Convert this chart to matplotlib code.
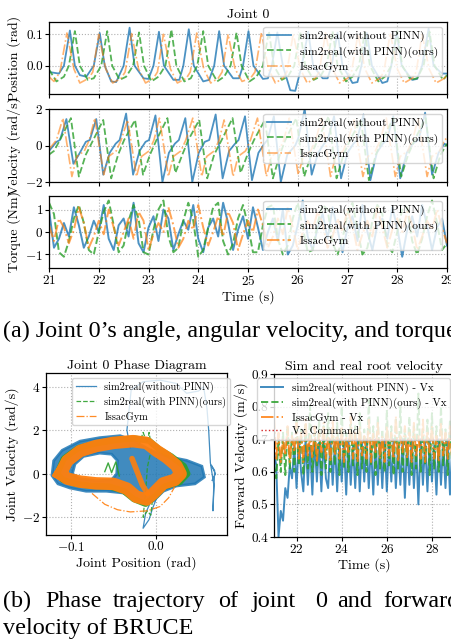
import numpy as np
import matplotlib
matplotlib.use('Agg')
import matplotlib.pyplot as plt
from matplotlib.path import Path
from matplotlib.patches import PathPatch

plt.rcParams['font.family'] = ['cmr10', 'DejaVu Serif']
plt.rcParams['mathtext.fontset'] = 'cm'
plt.rcParams['axes.formatter.use_mathtext'] = True
plt.rcParams['axes.unicode_minus'] = True

# ---------------- data ----------------
labels = ['sim2real(without PINN)', 'sim2real(with PINN)(ours)', 'IssacGym']
vx_labels = ['sim2real(without PINN) - Vx', 'sim2real(with PINN)(ours) - Vx',
             'IssacGym - Vx', 'Vx Command']

# Joint position (rad): (time, value) key points
blue_pos = [(21.00,-0.020),(21.20,-0.025),(21.30,0.000),(21.42,0.112),(21.52,0.000),(21.62,-0.030),
            (21.75,-0.035),(21.90,0.000),(22.02,0.104),(22.12,0.000),(22.25,-0.050),(22.35,-0.052),
            (22.50,0.000),(22.62,0.121),(22.72,0.000),(22.90,-0.040),(23.00,-0.042),(23.10,0.000),
            (23.21,0.108),(23.31,0.000),(23.50,-0.045),(23.62,-0.045),(23.70,0.000),(23.81,0.116),
            (23.91,0.000),(24.10,-0.050),(24.22,-0.045),(24.32,0.000),(24.42,0.110),(24.52,0.000),
            (24.70,-0.040),(24.82,-0.040),(24.90,0.000),(25.01,0.110),(25.11,0.000),(25.30,-0.042),
            (25.40,-0.040),(25.48,0.000),(25.59,0.106),(25.70,0.000),(25.85,-0.078),(25.95,-0.080),
            (26.08,0.000),(26.21,0.108),(26.31,0.000),(26.50,-0.040),(26.60,-0.040),(26.68,0.000),
            (26.80,0.105),(26.90,0.000),(27.10,-0.055),(27.20,-0.052),(27.28,0.000),(27.39,0.104),
            (27.49,0.000),(27.70,-0.055),(27.80,-0.050),(27.88,0.000),(27.99,0.106),(28.09,0.000),
            (28.30,-0.045),(28.40,-0.042),(28.50,0.000),(28.63,0.118),(28.73,0.000),(28.90,-0.025),
            (29.00,-0.025)]
green_pos = [(21.00,-0.012),(21.15,-0.050),(21.30,-0.035),(21.40,0.000),(21.52,0.110),(21.62,0.000),
             (21.78,-0.045),(21.90,-0.040),(22.05,0.000),(22.17,0.110),(22.27,0.000),(22.42,-0.045),
             (22.55,-0.035),(22.69,0.000),(22.81,0.106),(22.91,0.000),(23.06,-0.050),(23.20,-0.035),
             (23.34,0.000),(23.46,0.115),(23.56,0.000),(23.72,-0.050),(23.85,-0.040),(23.98,0.000),
             (24.10,0.110),(24.20,0.000),(24.38,-0.050),(24.52,-0.035),(24.65,0.000),(24.77,0.105),
             (24.87,0.000),(25.03,-0.050),(25.17,-0.035),(25.30,0.000),(25.42,0.110),(25.52,0.000),
             (25.68,-0.045),(25.80,-0.035),(25.93,0.000),(26.05,0.108),(26.15,0.000),(26.32,-0.045),
             (26.45,-0.035),(26.58,0.000),(26.70,0.110),(26.80,0.000),(26.97,-0.050),(27.10,-0.035),
             (27.23,0.000),(27.35,0.106),(27.45,0.000),(27.62,-0.050),(27.75,-0.035),(27.88,0.000),
             (28.00,0.110),(28.10,0.000),(28.27,-0.045),(28.40,-0.040),(28.53,0.000),(28.65,0.108),
             (28.75,0.000),(28.92,-0.045),(29.00,-0.030)]
orange_pos = [(21.00,-0.035),(21.10,-0.050),(21.22,-0.020),(21.36,0.104),(21.50,-0.010),(21.62,-0.055),
              (21.80,-0.040),(21.88,-0.020),(22.00,0.100),(22.14,-0.010),(22.28,-0.055),(22.45,-0.040),
              (22.53,-0.020),(22.66,0.102),(22.80,-0.010),(22.94,-0.055),(23.10,-0.040),(23.18,-0.020),
              (23.30,0.100),(23.44,-0.010),(23.58,-0.055),(23.76,-0.040),(23.84,-0.020),(23.97,0.104),
              (24.11,-0.010),(24.25,-0.055),(24.40,-0.040),(24.48,-0.020),(24.60,0.100),(24.74,-0.010),
              (24.88,-0.050),(25.05,-0.040),(25.14,-0.020),(25.27,0.105),(25.41,-0.010),(25.55,-0.055),
              (25.70,-0.040),(25.78,-0.020),(25.91,0.102),(26.05,-0.010),(26.19,-0.055),(26.35,-0.040),
              (26.43,-0.020),(26.56,0.104),(26.70,-0.010),(26.84,-0.055),(27.00,-0.040),(27.08,-0.020),
              (27.21,0.100),(27.35,-0.010),(27.49,-0.055),(27.65,-0.040),(27.73,-0.020),(27.86,0.104),
              (28.00,-0.010),(28.14,-0.055),(28.30,-0.040),(28.38,-0.020),(28.50,0.100),(28.64,-0.010),
              (28.78,-0.055),(28.95,-0.040),(29.00,-0.030)]

# Joint velocity (rad/s): (time, value) key points
blue_vel = [(21.00,-0.3),(21.15,0.2),(21.22,0.3),(21.35,1.45),(21.49,-1.0),(21.62,-0.4),(21.74,0.2),
            (21.82,0.3),(21.95,1.45),(22.09,-1.6),(22.22,-0.4),(22.34,0.1),
            (22.42,0.3),(22.55,1.75),(22.69,-1.6),(22.82,-0.3),(22.94,0.2),
            (23.01,0.3),(23.14,1.65),(23.28,-2.0),(23.41,-0.4),(23.53,0.1),
            (23.61,0.3),(23.74,1.5),(23.88,-2.0),(24.01,-0.4),(24.13,0.2),
            (24.22,0.3),(24.35,1.7),(24.49,-1.8),(24.62,-0.3),(24.74,0.1),
            (24.81,0.3),(24.94,1.6),(25.08,-1.9),(25.21,-0.4),(25.33,0.1),
            (25.39,0.3),(25.52,1.6),(25.66,-2.0),(25.79,-0.5),(25.95,0.0),
            (26.01,0.4),(26.14,2.0),(26.28,-1.6),(26.41,-0.4),(26.53,0.1),
            (26.60,0.3),(26.73,1.6),(26.87,-1.8),(27.00,-0.4),(27.12,0.1),
            (27.19,0.3),(27.32,1.7),(27.46,-1.9),(27.59,-0.4),(27.71,0.1),
            (27.79,0.3),(27.92,1.6),(28.06,-1.8),(28.19,-0.4),(28.31,0.1),
            (28.43,0.3),(28.56,1.8),(28.70,-1.6),(28.83,-0.4),(28.95,0.1),(29.00,0.0)]
green_vel = [(21.00,-0.5),(21.10,-0.3),(21.22,0.3),(21.44,1.5),(21.60,-1.7),(21.74,-0.5),(21.87,0.2),
             (22.09,1.4),(22.25,-1.8),(22.39,-0.5),(22.51,0.3),
             (22.73,1.4),(22.89,-1.6),(23.03,-0.5),(23.16,0.3),
             (23.38,1.5),(23.54,-1.5),(23.68,-0.5),(23.80,0.3),
             (24.02,1.4),(24.18,-1.8),(24.32,-0.5),(24.47,0.3),
             (24.69,1.5),(24.85,-1.5),(24.99,-0.5),(25.12,0.3),
             (25.34,1.4),(25.50,-1.8),(25.64,-0.5),(25.75,0.3),
             (25.97,1.5),(26.13,-1.7),(26.27,-0.5),(26.40,0.3),
             (26.62,1.6),(26.78,-1.8),(26.92,-0.5),(27.05,0.3),
             (27.27,1.4),(27.43,-1.9),(27.57,-0.5),(27.70,0.3),
             (27.92,1.5),(28.08,-1.7),(28.22,-0.5),(28.35,0.3),
             (28.57,1.5),(28.73,-1.8),(28.87,-0.5),(29.00,0.1)]
orange_vel = [(21.00,-0.2),(21.15,0.3),(21.28,1.5),(21.46,-1.7),(21.56,-0.6),(21.71,-0.3),(21.81,0.3),
              (21.92,1.5),(22.10,-1.6),(22.20,-0.6),(22.35,-0.3),(22.45,0.3),
              (22.58,1.4),(22.76,-1.7),(22.86,-0.6),(23.01,-0.3),(23.11,0.3),
              (23.22,1.5),(23.40,-1.7),(23.50,-0.6),(23.65,-0.3),(23.75,0.3),
              (23.89,1.5),(24.07,-1.7),(24.17,-0.6),(24.32,-0.3),(24.42,0.3),
              (24.52,1.4),(24.70,-1.7),(24.80,-0.6),(24.95,-0.3),(25.05,0.3),
              (25.19,1.5),(25.37,-1.7),(25.47,-0.6),(25.62,-0.3),(25.72,0.3),
              (25.83,1.5),(26.01,-1.6),(26.11,-0.6),(26.26,-0.3),(26.36,0.3),
              (26.48,1.5),(26.66,-1.7),(26.76,-0.6),(26.91,-0.3),(27.01,0.3),
              (27.13,1.4),(27.31,-1.7),(27.41,-0.6),(27.56,-0.3),(27.66,0.3),
              (27.78,1.5),(27.96,-1.7),(28.06,-0.6),(28.21,-0.3),(28.31,0.3),
              (28.42,1.5),(28.60,-1.7),(28.70,-0.6),(28.85,-0.3),(28.95,0.3),(29.00,0.4)]

# Joint torque (Nm), sampled across 21..29 s
blue_tau = [1.0,-0.7,-0.3,0.4,-0.2,1.1,0.3,-0.7,-0.2,0.5,0.0,1.2,-0.3,-0.8,0.3,0.6,-0.2,1.3,-0.5,-0.9,
            0.2,0.7,-0.4,1.0,0.6,-0.8,-0.1,0.5,0.1,1.2,-0.3,-0.9,0.2,0.6,-0.2,1.3,0.4,-0.8,0.1,0.7,
            -0.3,1.1,0.2,-0.8,0.0,0.6,-0.4,1.0,-1.0,-0.6,0.3,1.4,-0.2,-0.8,0.2,0.8,-0.3,1.1,0.1,-0.9,
            0.2,0.7,-0.4,1.2,0.0,-0.8,0.3,0.6,-0.3,1.1,0.2,-1.1,0.1,0.7,-0.2,1.2,0.3,-0.8,0.2,0.6,-0.6]
green_tau = [1.3,0.8,-0.9,-1.1,-0.4,0.6,1.2,0.4,-0.8,-1.0,0.0,0.9,1.4,0.3,-0.9,-0.6,0.5,1.2,0.6,-0.9,
             -1.0,0.1,1.0,1.4,-0.2,-0.9,-0.7,0.5,1.3,0.5,-1.1,-0.8,0.2,1.1,1.3,-0.4,-1.0,-0.5,0.6,1.2,
             0.3,-0.9,-0.9,0.3,1.1,1.2,-0.3,-1.0,-0.6,0.6,1.3,0.2,-0.9,-0.8,0.4,1.2,1.0,-0.5,-1.0,-0.3,
             0.8,1.3,0.1,-1.0,-0.7,0.5,1.2,0.8,-0.6,-0.9,0.0,1.0,1.1,-0.4,-1.0,-0.3,0.7,1.4,0.4,-0.8,-0.5]
orange_tau = [0.3,-0.4,0.6,0.2,-0.5,0.1,1.1,0.4,-0.7,-0.2,0.5,-0.1,1.0,0.2,-0.6,0.0,0.6,-0.3,0.9,0.5,
              -0.8,-0.1,0.4,0.0,1.1,0.3,-0.7,-0.3,0.5,0.1,1.2,0.2,-0.6,0.0,0.7,-0.2,0.9,0.4,-0.8,-0.1,
              0.5,0.0,1.0,0.3,-0.7,-0.2,0.6,-0.1,1.1,0.2,-0.8,0.0,0.5,0.1,0.9,0.4,-0.7,-0.2,0.6,0.0,
              1.0,0.3,-0.8,-0.1,0.5,-0.2,1.1,0.2,-0.7,0.1,0.6,0.0,0.9,0.3,-0.8,-0.2,0.5,0.1,1.0,0.2,-0.5]

# Forward root velocity (m/s), sampled across 21..29 s
blue_vx = [0.66,0.62,0.40,0.48,0.45,0.55,0.52,0.62,0.58,0.68,0.55,0.70,0.60,0.54,0.70,0.56,0.68,0.53,0.70,0.57,
           0.69,0.54,0.70,0.58,0.55,0.70,0.56,0.69,0.54,0.70,0.57,0.69,0.53,0.70,0.56,0.68,0.55,0.70,0.54,0.69,
           0.57,0.70,0.55,0.68,0.53,0.70,0.56,0.69,0.55,0.70,0.54,0.69,0.57,0.70,0.55,0.68,0.56,0.70,0.52,0.69,
           0.56,0.70,0.55,0.68,0.50,0.70,0.56,0.69,0.54,0.70,0.57,0.68,0.53,0.70,0.56,0.69,0.55,0.70,0.53,0.68,0.56]
green_vx = [0.62,0.58,0.70,0.60,0.72,0.59,0.74,0.61,0.72,0.60,0.76,0.62,0.73,0.59,0.75,0.61,0.80,0.60,0.72,0.62,
            0.76,0.59,0.74,0.61,0.78,0.60,0.73,0.62,0.75,0.59,0.80,0.61,0.72,0.60,0.76,0.62,0.74,0.59,0.78,0.61,
            0.73,0.60,0.82,0.62,0.74,0.59,0.77,0.61,0.73,0.60,0.79,0.62,0.74,0.59,0.76,0.61,0.80,0.60,0.73,0.62,
            0.77,0.59,0.74,0.61,0.84,0.60,0.73,0.62,0.76,0.59,0.78,0.61,0.74,0.60,0.80,0.62,0.73,0.59,0.76,0.61,0.72]
orange_vx = [0.77,0.64,0.72,0.63,0.70,0.65,0.74,0.63,0.71,0.66,0.75,0.64,0.72,0.63,0.76,0.65,0.71,0.64,0.74,0.63,
             0.72,0.66,0.75,0.64,0.71,0.63,0.76,0.65,0.72,0.64,0.74,0.63,0.71,0.66,0.77,0.64,0.72,0.63,0.74,0.65,
             0.71,0.64,0.76,0.63,0.72,0.66,0.75,0.64,0.71,0.63,0.74,0.65,0.72,0.64,0.77,0.63,0.71,0.66,0.74,0.64,
             0.72,0.63,0.75,0.65,0.71,0.64,0.76,0.63,0.72,0.66,0.74,0.64,0.71,0.63,0.75,0.65,0.72,0.64,0.74,0.63,0.70]
vx_command = 0.7

# Phase diagram outlines (position rad, velocity rad/s)
blue_phase_outer = [(-0.122,-0.08),(-0.120,0.60),(-0.110,1.08),(-0.089,1.50),(-0.066,1.66),(-0.042,1.75),
                    (-0.027,1.54),(-0.007,1.10),(0.0125,0.80),(0.036,0.62),(0.054,0.35),(0.057,-0.15),
                    (0.046,-0.46),(0.024,-0.56),(0.0087,-0.80),(-0.003,-1.25),(-0.015,-1.38),(-0.027,-1.15),
                    (-0.038,-0.88),(-0.058,-0.80),(-0.082,-0.80),(-0.101,-0.65),(-0.115,-0.46)]
blue_phase_hole = [(-0.098,0.0),(-0.095,0.45),(-0.085,0.80),(-0.066,0.95),(-0.052,0.90),(-0.045,0.6),
                   (-0.046,0.0),(-0.052,-0.28),(-0.070,-0.32),(-0.090,-0.22)]
blue_phase_spike = [(-0.030,1.2),(-0.034,2.0),(-0.029,3.85),(-0.015,4.23),(0.005,4.30),(0.024,4.15),
                    (0.036,3.70),(0.050,3.80),(0.056,4.00),(0.060,3.00),(0.062,2.00),(0.064,0.50),
                    (0.068,-0.50),(0.067,-1.70),(0.069,0.15),(0.065,0.40),(0.070,0.0),(0.066,-0.3)]
blue_phase_low = [(-0.005,-1.2),(-0.012,-1.8),(-0.015,-2.5),(-0.008,-2.1),(-0.004,-1.6),(0.0,-1.2)]
green_phase = [(-0.116,0.0),(-0.108,0.70),(-0.091,1.18),(-0.070,1.40),(-0.045,1.56),(-0.025,1.62),
               (-0.008,1.52),(0.004,1.12),(0.018,0.80),(0.033,0.35),(0.037,0.0),(0.028,-0.38),
               (0.010,-0.58),(0.000,-1.00),(-0.012,-1.38),(-0.026,-1.16),(-0.038,-0.78),(-0.055,-0.58),
               (-0.075,-0.56),(-0.094,-0.46),(-0.109,-0.28),(-0.116,0.0)]
green_phase_spikes = [(-0.020,1.3),(-0.015,1.9),(-0.010,1.4),(-0.008,1.9),(-0.005,1.2),(-0.010,0.3),
                      (-0.012,-0.8),(-0.015,-2.0),(-0.010,-1.7),(-0.006,-1.9),(-0.004,-1.2)]
green_phase_inner = [(-0.060,0.1),(-0.056,0.5),(-0.052,0.05),(-0.047,0.55),(-0.043,-0.1)]
orange_phase = [(-0.1120,0.0),(-0.104,0.60),(-0.089,1.05),(-0.070,1.28),(-0.050,1.42),(-0.027,1.50),
                (-0.011,1.42),(0.0008,1.06),(0.0125,0.76),(0.024,0.38),(0.029,0.0),(0.022,-0.28),
                (0.0087,-0.44),(-0.003,-0.90),(-0.011,-1.18),(-0.023,-1.05),(-0.034,-0.68),(-0.050,-0.46),
                (-0.070,-0.44),(-0.089,-0.36),(-0.104,-0.22),(-0.1120,0.0)]
orange_phase_inner = [(-0.028,0.7),(-0.022,0.1),(-0.016,-0.5),(-0.010,-0.9)]
orange_phase_outer = [(-0.075,-0.9),(-0.060,-1.4),(-0.045,-1.65),(-0.030,-1.75),(-0.010,-1.70),
                      (0.005,-1.50),(0.015,-1.10),(0.022,-0.6)]

# ---------------- style ----------------
C_BLUE, C_GREEN, C_ORANGE, C_RED = '#1f77b4', '#2ca02c', '#ff7f0e', '#d62728'
W, H = 451, 641
fig = plt.figure(figsize=(W / 100, H / 100), dpi=100)
TFS = 9.5     # tick labels
FS = 10.0     # axis labels, titles
LFS = 8.4     # top legends
LFS4 = 7.4    # phase legend
LFS5 = 7.9    # root velocity legend


def ax_px(l, t, r, b):
    return fig.add_axes([l / W, 1 - b / H, (r - l) / W, (b - t) / H])


def style(ax):
    ax.grid(True, linestyle=':', color='#b0b0b0', linewidth=0.8)
    ax.tick_params(labelsize=TFS, direction='out', length=2.6, width=0.8, pad=1.6)
    for s in ax.spines.values():
        s.set_linewidth(0.9)


def xy(pairs):
    a = np.array(pairs)
    return a[:, 0], a[:, 1]


# ---- top three panels ----
ax1 = ax_px(49, 22, 447, 94)
ax2 = ax_px(49, 109, 447, 182)
ax3 = ax_px(49, 196, 447, 268)

for ax, sets in [(ax1, [blue_pos, green_pos, orange_pos]),
                 (ax2, [blue_vel, green_vel, orange_vel])]:
    t, y = xy(sets[0]); ax.plot(t, y, '-', color=C_BLUE, alpha=0.8, lw=1.3, label=labels[0])
    t, y = xy(sets[1]); ax.plot(t, y, '--', color=C_GREEN, alpha=0.8, lw=1.3, label=labels[1])
    t, y = xy(sets[2]); ax.plot(t, y, '-.', color=C_ORANGE, alpha=0.6, lw=1.2, label=labels[2])

for vals, ls, c, a, lab in [(blue_tau, '-', C_BLUE, 0.8, labels[0]),
                            (green_tau, '--', C_GREEN, 0.8, labels[1]),
                            (orange_tau, '-.', C_ORANGE, 0.7, labels[2])]:
    ax3.plot(np.linspace(21, 29, len(vals)), vals, ls, color=c, alpha=a, lw=1.4, label=lab)

for ax in (ax1, ax2, ax3):
    style(ax)
    ax.set_xlim(21, 29)
    ax.set_xticks(range(21, 30))
    ax.legend(loc='upper right', fontsize=LFS, framealpha=0.8, borderaxespad=0.4,
              labelspacing=0.35, handlelength=2.0, borderpad=0.35)
ax1.tick_params(labelbottom=False)
ax2.tick_params(labelbottom=False)
ax1.set_ylim(-0.09, 0.139)
ax1.set_yticks([0.0, 0.1])
ax1.set_yticklabels(['0.0', '0.1'])
ax2.set_ylim(-2, 2)
ax2.set_yticks([-2, 0, 2])
ax3.set_ylim(-1.6, 1.6)
ax3.set_yticks([-1, 0, 1])
ax1.set_title('Joint 0', fontsize=FS, pad=3)
ax1.set_ylabel('Position (rad)', fontsize=FS)
ax2.set_ylabel('Velocity (rad/s)', fontsize=FS)
ax3.set_ylabel('Torque (Nm)', fontsize=FS)
for ax in (ax1, ax2, ax3):
    ax.yaxis.set_label_coords((21 - 49) / 398, 0.5)
ax3.set_xlabel('Time (s)', fontsize=FS, labelpad=2)

# ---- phase diagram ----
ax4 = ax_px(46, 373, 227, 535)
style(ax4)
outer = np.array(blue_phase_outer)
hole = np.array(blue_phase_hole)[::-1]
verts = np.vstack([outer, outer[:1], hole, hole[:1]])
codes = ([Path.MOVETO] + [Path.LINETO] * (len(outer) - 1) + [Path.CLOSEPOLY] +
         [Path.MOVETO] + [Path.LINETO] * (len(hole) - 1) + [Path.CLOSEPOLY])
ax4.add_patch(PathPatch(Path(verts, codes), facecolor=C_BLUE, edgecolor=C_BLUE,
                        alpha=0.85, lw=2, zorder=2))
px, pv = xy(blue_phase_spike)
ax4.plot(px, pv, '-', color=C_BLUE, lw=0.9, alpha=0.85, zorder=2, label=labels[0])
px, pv = xy(blue_phase_low)
ax4.plot(px, pv, '-', color=C_BLUE, lw=0.9, alpha=0.85, zorder=2)
px, pv = xy(green_phase)
ax4.plot(px, pv, '-', color=C_GREEN, lw=4.5, alpha=0.9, zorder=3, solid_joinstyle='round')
px, pv = xy(green_phase_spikes)
ax4.plot(px, pv, '--', color=C_GREEN, lw=0.9, alpha=0.9, zorder=3, label=labels[1])
px, pv = xy(green_phase_inner)
ax4.plot(px, pv, '-', color=C_GREEN, lw=1.0, alpha=0.9, zorder=3)
px, pv = xy(orange_phase)
ax4.plot(px, pv, '-', color=C_ORANGE, lw=9, alpha=0.95, zorder=4, solid_joinstyle='round')
px, pv = xy(orange_phase_inner)
ax4.plot(px, pv, '-', color=C_ORANGE, lw=4, alpha=0.9, zorder=4, solid_capstyle='round')
px, pv = xy(orange_phase_outer)
ax4.plot(px, pv, '-.', color=C_ORANGE, lw=0.9, alpha=0.9, zorder=4, label=labels[2])
ax4.set_xlim(-0.129, 0.0835)
ax4.set_ylim(-2.81, 4.63)
ax4.set_xticks([-0.1, 0.0])
ax4.set_xticklabels(['$-0.1$', '0.0'])
ax4.set_yticks([-2, 0, 2, 4])
ax4.set_title('Joint 0 Phase Diagram', fontsize=FS, pad=3)
ax4.set_xlabel('Joint Position (rad)', fontsize=FS, labelpad=2)
ax4.set_ylabel('Joint Velocity (rad/s)', fontsize=FS)
ax4.yaxis.set_label_coords((19 - 46) / 181, 0.5)
ax4.legend(loc='upper left', bbox_to_anchor=(0.144, 0.969), borderaxespad=0,
           fontsize=LFS4, framealpha=0.8, labelspacing=0.35, borderpad=0.35).set_zorder(10)

# ---- forward velocity ----
ax5 = ax_px(274, 374, 454.5, 537)
style(ax5)
for vals, ls, c, a, lab in [(blue_vx, '-', C_BLUE, 0.85, vx_labels[0]),
                            (green_vx, '--', C_GREEN, 0.85, vx_labels[1]),
                            (orange_vx, '-.', C_ORANGE, 0.85, vx_labels[2])]:
    ax5.plot(np.linspace(21, 29, len(vals)), vals, ls, color=c, alpha=a, lw=1.4, label=lab)
ax5.axhline(vx_command, color=C_RED, ls=':', lw=1.0, label=vx_labels[3])
ax5.set_xlim(21, 29)
ax5.set_ylim(0.4, 0.9)
ax5.set_xticks([22, 24, 26, 28])
ax5.set_yticks([0.4, 0.5, 0.6, 0.7, 0.8, 0.9])
ax5.set_yticklabels(['0.4', '0.5', '0.6', '0.7', '0.8', '0.9'])
ax5.set_title('Sim and real root velocity', fontsize=FS, pad=3)
ax5.set_xlabel('Time (s)', fontsize=FS, labelpad=2)
ax5.set_ylabel('Forward Velocity (m/s)', fontsize=FS)
ax5.yaxis.set_label_coords((248 - 274) / 180.5, 0.5)
ax5.legend(loc='upper right', fontsize=LFS5, framealpha=0.8, borderaxespad=0.4,
           labelspacing=0.35, borderpad=0.35)

# ---- captions ----
cap = dict(family='Liberation Serif', fontsize=17.4, va='baseline', ha='left')
fig.text(3 / W, 1 - 337 / H, "(a) Joint 0\u2019s angle, angular velocity, and torque", **cap)
words_b = ['(b)', 'Phase', 'trajectory', 'of', 'joint', '0', 'and', 'forward']
words_x = [3, 45, 113, 218, 252, 315, 337, 383]
for wd, x in zip(words_b, words_x):
    fig.text(x / W, 1 - 607 / H, wd, **cap)
fig.text(3 / W, 1 - 634 / H, 'velocity of BRUCE', **cap)

fig.savefig('out.png', dpi=100)
